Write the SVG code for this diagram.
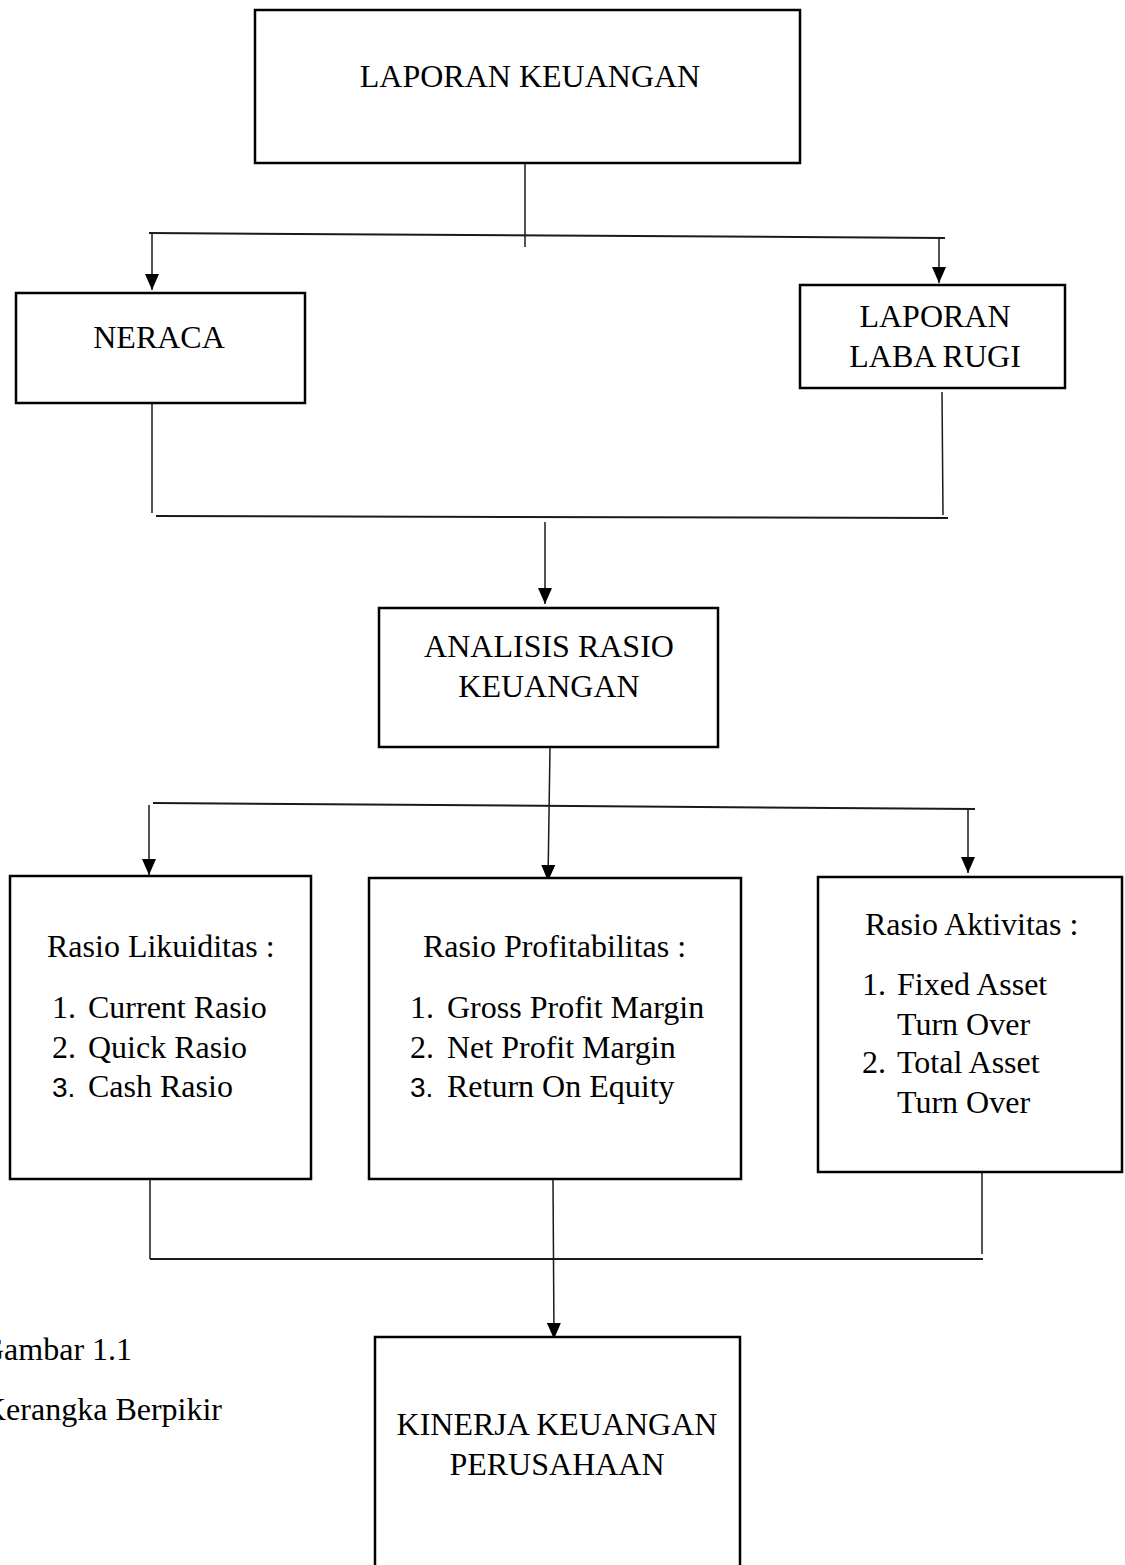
<svg xmlns="http://www.w3.org/2000/svg" width="1125" height="1565" viewBox="0 0 1125 1565">
<style>
.box{fill:#fff;stroke:#000;stroke-width:2.5}
.ln{fill:none;stroke:#1a1a1a;stroke-width:1.5}
.hl{fill:none;stroke:#1a1a1a;stroke-width:2}
.t{font-family:"Liberation Serif","Times New Roman",serif;font-size:32px;fill:#000}
.c{text-anchor:middle}
.n{font-family:"Liberation Sans",Arial,sans-serif;font-size:28px;fill:#000}
</style>
<defs>
<marker id="ah" markerUnits="userSpaceOnUse" markerWidth="16" markerHeight="14" refX="16" refY="7" orient="auto">
<path d="M0,0 L16,7 L0,14 Z" fill="#000"/>
</marker>
</defs>
<rect width="1125" height="1565" fill="#fff"/>
<g id="connectors">
<line class="ln" x1="525" y1="163" x2="525" y2="247"/>
<line class="hl" x1="149" y1="233" x2="945" y2="238"/>
<line class="ln" x1="152" y1="233" x2="152" y2="290" marker-end="url(#ah)"/>
<line class="ln" x1="939" y1="238" x2="939" y2="283" marker-end="url(#ah)"/>
<line class="ln" x1="152" y1="403" x2="152" y2="513"/>
<line class="ln" x1="942" y1="392" x2="943" y2="515"/>
<line class="hl" x1="156" y1="516" x2="948" y2="518"/>
<line class="ln" x1="545" y1="522" x2="545" y2="604" marker-end="url(#ah)"/>
<line class="ln" x1="550" y1="747" x2="548" y2="881" marker-end="url(#ah)"/>
<line class="hl" x1="153" y1="803" x2="975" y2="809"/>
<line class="ln" x1="149" y1="805" x2="149" y2="875" marker-end="url(#ah)"/>
<line class="ln" x1="968" y1="809" x2="968" y2="873" marker-end="url(#ah)"/>
<line class="ln" x1="150" y1="1179" x2="150" y2="1259"/>
<line class="ln" x1="982" y1="1172" x2="982" y2="1254"/>
<line class="hl" x1="150" y1="1259" x2="983" y2="1259"/>
<line class="ln" x1="553" y1="1179" x2="554" y2="1339" marker-end="url(#ah)"/>
</g>
<g id="laporan-keuangan">
<rect class="box" x="255" y="10" width="545" height="153"/>
<text class="t c" x="530" y="87">LAPORAN KEUANGAN</text>
</g>
<g id="neraca">
<rect class="box" x="16" y="293" width="289" height="110"/>
<text class="t c" x="159" y="348">NERACA</text>
</g>
<g id="laba-rugi">
<rect class="box" x="800" y="285" width="265" height="103"/>
<text class="t c" x="935" y="327">LAPORAN</text>
<text class="t c" x="935" y="367">LABA RUGI</text>
</g>
<g id="analisis">
<rect class="box" x="379" y="608" width="339" height="139"/>
<text class="t c" x="549" y="657">ANALISIS RASIO</text>
<text class="t c" x="549" y="697">KEUANGAN</text>
</g>
<g id="likuiditas">
<rect class="box" x="10" y="876" width="301" height="303"/>
<text class="t" x="47" y="957">Rasio Likuiditas :</text>
<text class="t" x="52" y="1018">1.</text><text class="t" x="88" y="1018">Current Rasio</text>
<text class="t" x="52" y="1058">2.</text><text class="t" x="88" y="1058">Quick Rasio</text>
<text class="n" x="52" y="1097">3.</text><text class="t" x="88" y="1097">Cash Rasio</text>
</g>
<g id="profitabilitas">
<rect class="box" x="369" y="878" width="372" height="301"/>
<text class="t" x="423" y="957">Rasio Profitabilitas :</text>
<text class="t" x="410" y="1018">1.</text><text class="t" x="447" y="1018">Gross Profit Margin</text>
<text class="t" x="410" y="1058">2.</text><text class="t" x="447" y="1058">Net Profit Margin</text>
<text class="n" x="410" y="1097">3.</text><text class="t" x="447" y="1097">Return On Equity</text>
</g>
<g id="aktivitas">
<rect class="box" x="818" y="877" width="304" height="295"/>
<text class="t" x="865" y="935">Rasio Aktivitas :</text>
<text class="t" x="862" y="995">1.</text><text class="t" x="897" y="995">Fixed Asset</text>
<text class="t" x="897" y="1035">Turn Over</text>
<text class="t" x="862" y="1073">2.</text><text class="t" x="897" y="1073">Total Asset</text>
<text class="t" x="897" y="1113">Turn Over</text>
</g>
<g id="kinerja">
<rect class="box" x="375" y="1337" width="365" height="240"/>
<text class="t c" x="557" y="1435">KINERJA KEUANGAN</text>
<text class="t c" x="557" y="1475">PERUSAHAAN</text>
</g>
<g id="caption">
<text class="t" x="-19" y="1360">Gambar 1.1</text>
<text class="t" x="-17" y="1420">Kerangka Berpikir</text>
</g>
</svg>
